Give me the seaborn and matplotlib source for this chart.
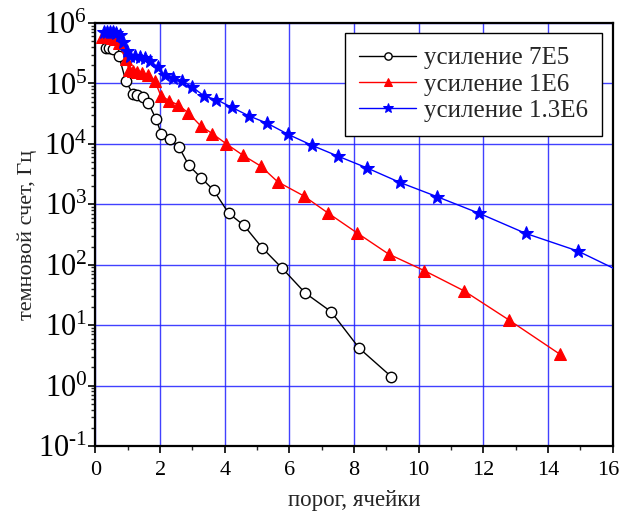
import matplotlib
matplotlib.use("Agg")
import matplotlib.pyplot as plt
import matplotlib.transforms as mtransforms
import seaborn as sns
import numpy as np
from matplotlib.ticker import LogLocator, MultipleLocator, FuncFormatter, FixedLocator

# ---- data ----
x_7e5 = [0.32, 0.42, 0.54, 0.73, 0.94, 1.15, 1.28, 1.46, 1.64, 1.87, 2.04, 2.30,
         2.58, 2.89, 3.28, 3.66, 4.12, 4.59, 5.16, 5.78, 6.49, 7.29, 8.16, 9.15]
y_7e5 = [3.9e5, 3.9e5, 3.7e5, 2.8e5, 1.09e5, 6.8e4, 6.4e4, 5.9e4, 4.7e4, 2.6e4,
         1.45e4, 1.2e4, 8.9e3, 4.4e3, 2.7e3, 1.7e3, 7.1e2, 4.5e2, 1.9e2, 87, 34,
         16.7, 4.15, 1.41]

x_1e6 = [0.20, 0.30, 0.40, 0.50, 0.60, 0.73, 0.93, 1.04, 1.17, 1.29, 1.43, 1.63,
         1.84, 2.02, 2.28, 2.56, 2.86, 3.25, 3.62, 4.05, 4.56, 5.11, 5.64, 6.44,
         7.19, 8.08, 9.07, 10.17, 11.40, 12.79, 14.37]
y_1e6 = [5.9e5, 5.9e5, 5.8e5, 5.7e5, 5.5e5, 4.6e5, 2.5e5, 1.7e5, 1.6e5, 1.53e5,
         1.5e5, 1.4e5, 1.09e5, 6.3e4, 5.2e4, 4.4e4, 3.3e4, 2.0e4, 1.47e4, 1.0e4,
         6.5e3, 4.3e3, 2.35e3, 1.38e3, 7.2e2, 3.4e2, 150, 80, 37, 12.2, 3.3]

x_13e6 = [0.25, 0.35, 0.45, 0.55, 0.65, 0.75, 0.86, 0.96, 1.06, 1.22, 1.37, 1.53,
          1.68, 1.92, 2.14, 2.40, 2.69, 3.00, 3.36, 3.74, 4.23, 4.75, 5.31, 5.97,
          6.69, 7.49, 8.40, 9.42, 10.58, 11.87, 13.31, 14.93, 16.6]
y_13e6 = [7.2e5, 7.2e5, 7.1e5, 7.0e5, 6.8e5, 6.4e5, 4.85e5, 3.5e5, 2.9e5, 2.8e5,
          2.7e5, 2.6e5, 2.35e5, 1.9e5, 1.36e5, 1.23e5, 1.1e5, 8.7e4, 6.2e4, 5.4e4,
          4.0e4, 2.9e4, 2.2e4, 1.43e4, 9.5e3, 6.3e3, 4.0e3, 2.3e3, 1.33e3, 7.1e2,
          3.3e2, 168, 62]

labels = ["усиление 7E5", "усиление 1E6", "усиление 1.3E6"]
xlabel = "порог, ячейки"
ylabel = "темновой счет, Гц"
x_ticks = [0, 2, 4, 6, 8, 10, 12, 14, 16]
y_ticks = [1e-1, 1e0, 1e1, 1e2, 1e3, 1e4, 1e5, 1e6]

sns.set_theme(style="white")
plt.rcParams['font.family'] = ['Liberation Serif', 'DejaVu Serif']
plt.rcParams['mathtext.fontset'] = 'custom'
plt.rcParams['mathtext.rm'] = 'Liberation Serif'
plt.rcParams['mathtext.it'] = 'Liberation Serif:italic'
plt.rcParams['mathtext.bf'] = 'Liberation Serif:bold'
plt.rcParams['axes.unicode_minus'] = False

fig = plt.figure(figsize=(6.2, 5.12), dpi=100)
ax = fig.add_axes([0.154, 0.129, 0.834, 0.826])

sns.lineplot(x=x_7e5, y=y_7e5, ax=ax, color='black', lw=1.0, marker='o',
             markersize=7.5, markerfacecolor='white', markeredgecolor='black',
             markeredgewidth=1.0, label=labels[0], estimator=None, sort=False, zorder=3)
sns.lineplot(x=x_1e6, y=y_1e6, ax=ax, color='red', lw=1.0, marker='^',
             markersize=9, markerfacecolor='red', markeredgecolor='red',
             label=labels[1], estimator=None, sort=False, zorder=3)
sns.lineplot(x=x_13e6, y=y_13e6, ax=ax, color='blue', lw=1.0, marker='*',
             markersize=10, markerfacecolor='blue', markeredgecolor='blue',
             label=labels[2], estimator=None, sort=False, zorder=3)

ax.set_yscale('log')
ax.set_xlim(0, 16)
ax.set_ylim(1e-1, 1e6)
ax.set_xticks(x_ticks)
ax.xaxis.set_minor_locator(MultipleLocator(1))
ax.yaxis.set_major_locator(FixedLocator(y_ticks))
ax.yaxis.set_minor_locator(LogLocator(base=10, subs=np.arange(2, 10), numticks=20))


def _pow10(v, pos):
    e = int(round(np.log10(v)))
    if e < 0:
        return r'$\mathdefault{10^{\text{-}%d}}$' % (-e)
    return r'$\mathdefault{10^{%d}}$' % e


ax.yaxis.set_major_formatter(FuncFormatter(_pow10))

ax.grid(True, which='major', color='#2020ff', lw=1.0, alpha=0.85, zorder=0)
ax.set_axisbelow(True)

for s in ax.spines.values():
    s.set_color('black')
    s.set_linewidth(1.6)

ax.tick_params(axis='both', which='major', direction='out', length=5, width=1.2,
               colors='black', bottom=True, left=True, top=False, right=False, pad=2)
ax.tick_params(axis='both', which='minor', direction='out', length=3, width=1.0,
               bottom=True, left=True, top=False, right=False)
ax.tick_params(axis='x', which='major', labelsize=16, pad=6)
ax.tick_params(axis='y', which='major', labelsize=22, pad=1)

# keep the last x tick label inside the figure edge
last = ax.get_xticklabels()[-1]
last.set_transform(last.get_transform() +
                   mtransforms.ScaledTranslation(-4 / 100, 0, fig.dpi_scale_trans))

ax.set_xlabel(xlabel, fontsize=16.5, labelpad=7)
ax.set_ylabel(ylabel, fontsize=16, labelpad=1)

leg = ax.legend(loc='upper right', bbox_to_anchor=(0.979, 0.976), fontsize=18,
                frameon=True, fancybox=False, framealpha=1, edgecolor='black',
                handlelength=2.3, handletextpad=0.3, borderpad=0.55, labelspacing=0.15,
                borderaxespad=0, markerscale=0.7)
leg.get_frame().set_linewidth(1.0)

fig.savefig('out.png', dpi=100)
